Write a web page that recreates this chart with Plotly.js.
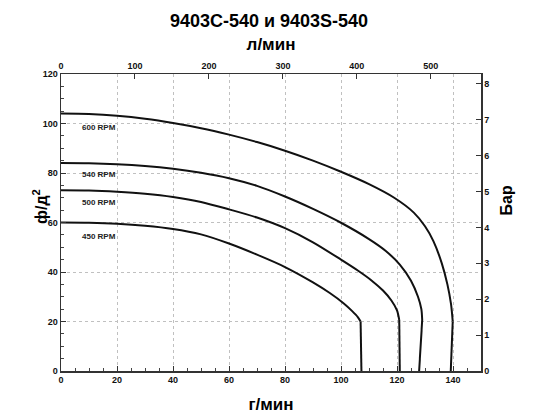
<!DOCTYPE html>
<html>
<head>
<meta charset="utf-8">
<script src="https://cdn.plot.ly/plotly-3.0.1.min.js"></script>
<style>html,body{margin:0;padding:0;background:#fff}#chart{width:538px;height:417px}</style>
</head>
<body>
<div id="chart"></div>
<script>
// Data (flow in US gpm, pressure in psi); last point of each series is the straight drop to 0 psi
const gpm600 = [0, 10, 20, 30, 40, 50, 60, 70, 80, 90, 100, 110, 119, 126, 130, 133, 136, 138, 139.3, 139.9, 139.2];
const psi600 = [104, 103.8, 103.1, 101.9, 100.2, 98.1, 95.5, 92.5, 89, 85, 80.5, 75.5, 70, 64, 58.5, 52.5, 43.5, 35, 27, 20, 0];

const gpm540 = [0, 10, 20, 30, 40, 50, 60, 70, 80, 90, 100, 110, 116, 121, 125, 127.5, 128.7, 129, 127.9];
const psi540 = [84, 83.9, 83.5, 82.8, 81.7, 80.1, 77.9, 74.8, 70.5, 65.5, 59.9, 53.3, 48.5, 43, 36.5, 30, 25, 20.6, 0];

const gpm500 = [0, 10, 20, 30, 40, 50, 60, 70, 80, 90, 100, 106, 111, 115, 118, 120, 120.8, 121];
const psi500 = [73, 72.9, 72.4, 71.6, 70.3, 68.3, 65.3, 62, 57.7, 52, 45, 40.6, 36.5, 32.5, 28.5, 24.5, 20.6, 0];

const gpm450 = [0, 10, 20, 30, 40, 50, 60, 70, 80, 90, 96, 101, 104, 106, 107, 107.3];
const psi450 = [60, 59.9, 59.5, 58.7, 57.4, 55.2, 51.5, 47, 42, 35.8, 31.5, 27.3, 24.2, 21.8, 20, 0];

const rpmLabels = ["600 RPM", "540 RPM", "500 RPM", "450 RPM"];
const rpmLabelX = [13.6, 13.6, 13.6, 13.6];
const rpmLabelY = [98.2, 79.2, 67.9, 54.5];

const titleText = "9403C-540 и 9403S-540";
const topAxisTitle = "л/мин";
const bottomAxisTitle = "г/мин";
const leftAxisTitle = "ф/д<sup>2</sup>";
const rightAxisTitle = "Бар";

const gpmRange = [0, 150];
const psiRange = [0, 120];
const lpmRange = [0, 150 * 3.78541];
const barRange = [0, 120 * 0.0689476];

const FONT = "Liberation Sans, Arial, sans-serif";

const series = [[gpm600, psi600], [gpm540, psi540], [gpm500, psi500], [gpm450, psi450]];
const traces = [];
series.forEach(s => {
  const n = s[0].length;
  traces.push({
    x: s[0].slice(0, n - 1), y: s[1].slice(0, n - 1), type: "scatter", mode: "lines",
    line: {color: "#111", width: 2, shape: "spline", smoothing: 0.8},
    hoverinfo: "skip", showlegend: false, xaxis: "x", yaxis: "y"
  });
  traces.push({
    x: s[0].slice(n - 2), y: s[1].slice(n - 2), type: "scatter", mode: "lines",
    line: {color: "#111", width: 2},
    hoverinfo: "skip", showlegend: false, xaxis: "x", yaxis: "y"
  });
});
// invisible traces to activate the secondary axes
traces.push({x: lpmRange, y: psiRange, xaxis: "x2", yaxis: "y", mode: "markers", marker: {opacity: 0}, showlegend: false, hoverinfo: "skip"});
traces.push({x: gpmRange, y: barRange, xaxis: "x", yaxis: "y2", mode: "markers", marker: {opacity: 0}, showlegend: false, hoverinfo: "skip"});

const tickFont = {family: FONT, size: 9, color: "#111", weight: "bold"};
const axisCommon = {
  showline: true, linecolor: "#333", linewidth: 1.5,
  ticks: "inside", ticklen: 5, tickcolor: "#333", tickwidth: 1,
  tickfont: tickFont, zeroline: false, fixedrange: true
};
const gridStyle = {showgrid: true, gridcolor: "#c0c0c0", gridwidth: 1, griddash: "dot"};

const annotations = rpmLabels.map((t, i) => ({
  x: rpmLabelX[i], y: rpmLabelY[i], xref: "x", yref: "y", text: t, showarrow: false,
  font: {family: FONT, size: 8, color: "#222", weight: "bold"}
}));
const L = 61, R = 57, T = 74, B = 46, W = 538, H = 417;
annotations.push({
  x: (28 - L) / (W - L - R), y: (H - B - 207) / (H - T - B), xref: "paper", yref: "paper",
  text: leftAxisTitle, showarrow: false, textangle: -90,
  font: {family: FONT, size: 16, color: "#000", weight: "bold"}
});
annotations.push({
  x: (516 - L) / (W - L - R), y: (H - B - 201) / (H - T - B), xref: "paper", yref: "paper",
  text: rightAxisTitle, showarrow: false, textangle: -90,
  font: {family: FONT, size: 16, color: "#000", weight: "bold"}
});

const layout = {
  width: W, height: H,
  margin: {l: L, r: R, t: T, b: B, pad: 0},
  paper_bgcolor: "#fff", plot_bgcolor: "#fff",
  showlegend: false,
  title: {text: titleText, x: 0.5, xanchor: "center", y: 1 - 21 / H, yanchor: "middle", yref: "container",
          font: {family: FONT, size: 18, color: "#000", weight: "bold"}},
  xaxis: Object.assign({}, axisCommon, gridStyle, {
    range: gpmRange, dtick: 20, tick0: 0,
    minor: {ticks: "inside", dtick: 5, ticklen: 3, tickcolor: "#444", showgrid: false},
    title: {text: bottomAxisTitle, standoff: 14, font: {family: FONT, size: 17, color: "#000", weight: "bold"}}
  }),
  xaxis2: Object.assign({}, axisCommon, {
    overlaying: "x", side: "top", range: lpmRange, dtick: 100, tick0: 0, showgrid: false,
    title: {text: topAxisTitle, standoff: 6, font: {family: FONT, size: 17, color: "#000", weight: "bold"}}
  }),
  yaxis: Object.assign({}, axisCommon, gridStyle, {
    range: psiRange, dtick: 20, tick0: 0,
    minor: {ticks: "inside", dtick: 5, ticklen: 3, tickcolor: "#444", showgrid: false}
  }),
  yaxis2: Object.assign({}, axisCommon, {
    overlaying: "y", side: "right", range: barRange, dtick: 1, tick0: 0, showgrid: false
  }),
  annotations: annotations
};

Plotly.newPlot("chart", traces, layout, {displayModeBar: false, staticPlot: true});
</script>
</body>
</html>
